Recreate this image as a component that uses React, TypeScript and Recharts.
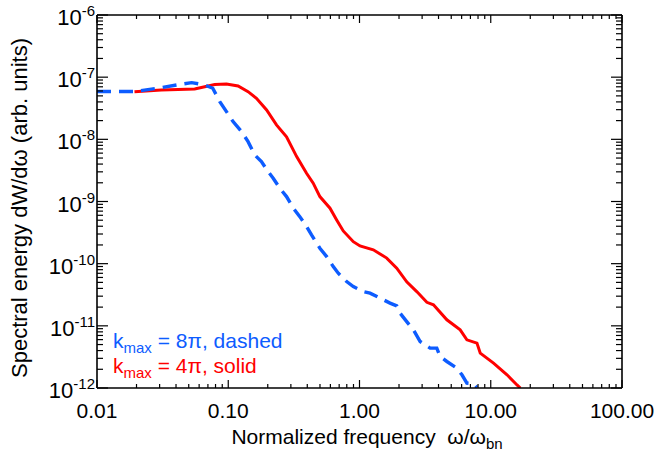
import { Line, LineChart, XAxis, YAxis } from "recharts";

// k_max = 8pi (dashed, blue)
const blueFreq = [
  0.01, 0.0193, 0.03, 0.0427, 0.0526, 0.0662, 0.0762, 0.0862, 0.0969, 0.1088,
  0.1262, 0.1416, 0.1592, 0.179, 0.201, 0.22, 0.247, 0.278, 0.313, 0.351,
  0.395, 0.431, 0.499, 0.562, 0.631, 0.689, 0.798, 0.897, 1.069, 1.203,
  1.433, 1.709, 1.922, 2.037, 2.29, 2.575, 2.897, 3.45, 3.88, 4.11,
  4.63, 5.52, 6.03, 6.58, 7.39, 7.85,
];
const blueEnergy = [
  5.89e-8, 5.89e-8, 6.7e-8, 7.64e-8, 8.17e-8, 7.5e-8, 6.64e-8, 4.04e-8, 2.79e-8, 1.93e-8,
  1.33e-8, 9.19e-9, 5.61e-9, 4.38e-9, 3.03e-9, 2.37e-9, 1.64e-9, 1.2e-9, 7.8e-10, 5.71e-10,
  3.95e-10, 2.9e-10, 1.77e-10, 1.3e-10, 8.98e-11, 7.03e-11, 5.15e-11, 4.28e-11, 3.56e-11, 3.36e-11,
  2.79e-11, 2.32e-11, 2.1e-11, 1.6e-11, 1.17e-11, 8.63e-12, 5.6e-12, 4.38e-12, 4.38e-12, 3.21e-12,
  2.67e-12, 2.09e-12, 1.63e-12, 1.2e-12, 1.17e-12, 1.02e-12,
];

// k_max = 4pi (solid, red)
const redFreq = [
  0.0193, 0.0309, 0.0555, 0.0662, 0.0789, 0.0969, 0.1188, 0.1416, 0.164, 0.196,
  0.233, 0.278, 0.332, 0.395, 0.444, 0.499, 0.596, 0.67, 0.752, 0.897,
  1.009, 1.274, 1.613, 1.922, 2.29, 2.73, 3.26, 3.66, 4.63, 5.85,
  6.58, 7.85, 8.32, 10.5, 13.3, 15.85, 16.8,
];
const redEnergy = [
  5.85e-8, 6.22e-8, 6.46e-8, 7.03e-8, 7.64e-8, 7.78e-8, 7.23e-8, 5.85e-8, 4.58e-8, 2.97e-8,
  1.71e-8, 1.1e-8, 5.27e-9, 2.85e-9, 1.97e-9, 1.2e-9, 7.8e-10, 5.06e-10, 3.36e-10, 2.26e-10,
  1.93e-10, 1.67e-10, 1.23e-10, 8.47e-11, 5.1e-11, 3.56e-11, 2.39e-11, 2.18e-11, 1.25e-11, 8.63e-12,
  5.96e-12, 5.27e-12, 3.64e-12, 2.51e-12, 1.63e-12, 1.12e-12, 1.0e-12,
];

const xMajors = [0.01, 0.1, 1, 10, 100];
const xLabels = ["0.01", "0.10", "1.00", "10.00", "100.00"];
const yExponents = [-12, -11, -10, -9, -8, -7, -6];

const FONT = "Liberation Sans, Arial, sans-serif";
const BLUE = "#0d5cff";
const RED = "#ff0000";

const blueData = blueFreq.map((f, i) => ({ f, e: blueEnergy[i] }));
const redData = redFreq.map((f, i) => ({ f, e: redEnergy[i] }));

// majors plus 2..9 minors in every decade
const withMinors = (majors: number[]) => {
  const out: number[] = [];
  majors.forEach((m, i) => {
    out.push(m);
    if (i < majors.length - 1) for (let k = 2; k < 10; k++) out.push(m * k);
  });
  return out;
};
const xTicks = withMinors(xMajors);
const yTicks = withMinors(yExponents.map((p) => Math.pow(10, p)));

const isMajor = (v: number) => {
  const l = Math.log10(v);
  return Math.abs(l - Math.round(l)) < 1e-6;
};

const txt = { fontFamily: FONT };

const BottomTick = (props: any) => {
  const { x, y, payload } = props;
  const v = payload.value;
  const major = isMajor(v);
  const idx = xMajors.findIndex((m) => Math.abs(m - v) / m < 1e-6);
  return (
    <g>
      <line x1={x} x2={x} y1={y} y2={y - (major ? 8 : 4)} stroke="#000" strokeWidth={1.2} />
      {major && idx >= 0 && (
        <text x={x} y={y + 30} textAnchor="middle" style={txt} fontSize={21} fill="#000">
          {xLabels[idx]}
        </text>
      )}
    </g>
  );
};

const TopTick = (props: any) => {
  const { x, y, payload } = props;
  const major = isMajor(payload.value);
  return <line x1={x} x2={x} y1={y} y2={y + (major ? 8 : 4)} stroke="#000" strokeWidth={1.2} />;
};

const LeftTick = (props: any) => {
  const { x, y, payload } = props;
  const v = payload.value;
  const major = isMajor(v);
  return (
    <g>
      <line x1={x} x2={x + (major ? 11 : 6)} y1={y} y2={y} stroke="#000" strokeWidth={1.2} />
      {major && (
        <text x={x - 2} y={y + 10} textAnchor="end" style={txt} fontSize={22} fill="#000">
          <tspan>10</tspan>
          <tspan fontSize={15} dy={-9}>
            {String(Math.round(Math.log10(v)))}
          </tspan>
        </text>
      )}
    </g>
  );
};

const RightTick = (props: any) => {
  const { x, y, payload } = props;
  const major = isMajor(payload.value);
  return <line x1={x} x2={x - (major ? 11 : 6)} y1={y} y2={y} stroke="#000" strokeWidth={1.2} />;
};

const axisLine = { stroke: "#000", strokeWidth: 1.6 };

export default function App() {
  return (
    <div style={{ position: "absolute", left: 0, top: 0 }}>
      <LineChart width={659} height={453} margin={{ top: 10, right: 17, bottom: 5, left: 17 }}>
        <XAxis
          xAxisId={0}
          dataKey="f"
          type="number"
          scale="log"
          domain={[0.01, 100]}
          allowDataOverflow
          ticks={xTicks}
          interval={0}
          tick={(p: any) => <BottomTick {...p} />}
          tickLine={false}
          tickSize={0}
          tickMargin={0}
          axisLine={axisLine}
          height={60}
        />
        <XAxis
          xAxisId="top"
          orientation="top"
          dataKey="f"
          type="number"
          scale="log"
          domain={[0.01, 100]}
          allowDataOverflow
          ticks={xTicks}
          interval={0}
          tick={(p: any) => <TopTick {...p} />}
          tickLine={false}
          tickSize={0}
          tickMargin={0}
          axisLine={axisLine}
          height={5}
        />
        <YAxis
          yAxisId={0}
          type="number"
          scale="log"
          domain={[1e-12, 1e-6]}
          allowDataOverflow
          ticks={yTicks}
          interval={0}
          tick={(p: any) => <LeftTick {...p} />}
          tickLine={false}
          tickSize={0}
          tickMargin={0}
          axisLine={axisLine}
          width={80}
        />
        <YAxis
          yAxisId="right"
          orientation="right"
          type="number"
          scale="log"
          domain={[1e-12, 1e-6]}
          allowDataOverflow
          ticks={yTicks}
          interval={0}
          tick={(p: any) => <RightTick {...p} />}
          tickLine={false}
          tickSize={0}
          tickMargin={0}
          axisLine={axisLine}
          width={20}
        />
        <Line
          data={redData}
          dataKey="e"
          type="linear"
          stroke={RED}
          strokeWidth={3}
          dot={false}
          isAnimationActive={false}
        />
        <Line
          data={blueData}
          dataKey="e"
          type="linear"
          stroke={BLUE}
          strokeWidth={3.4}
          strokeDasharray="14 8"
          dot={false}
          isAnimationActive={false}
        />
        <text
          x={367}
          y={444}
          textAnchor="middle"
          fontSize={21}
          fill="#000"
          style={{ ...txt, whiteSpace: "pre" }}
        >
          <tspan>{"Normalized frequency  \u03c9/\u03c9"}</tspan>
          <tspan fontSize={15} dy={5}>
            bn
          </tspan>
        </text>
        <text
          transform="translate(27, 208) rotate(-90)"
          textAnchor="middle"
          fontSize={22}
          fill="#000"
          style={txt}
        >
          {"Spectral energy dW/d\u03c9 (arb. units)"}
        </text>
        <text x={113} y={348} fontSize={21} fill={BLUE} style={{ ...txt, whiteSpace: "pre" }}>
          <tspan>k</tspan>
          <tspan fontSize={15} dy={5}>
            max
          </tspan>
          <tspan dy={-5}>{" = 8\u03c0, dashed"}</tspan>
        </text>
        <text x={113} y={373} fontSize={21} fill={RED} style={{ ...txt, whiteSpace: "pre" }}>
          <tspan>k</tspan>
          <tspan fontSize={15} dy={5}>
            max
          </tspan>
          <tspan dy={-5}>{" = 4\u03c0, solid"}</tspan>
        </text>
      </LineChart>
    </div>
  );
}
